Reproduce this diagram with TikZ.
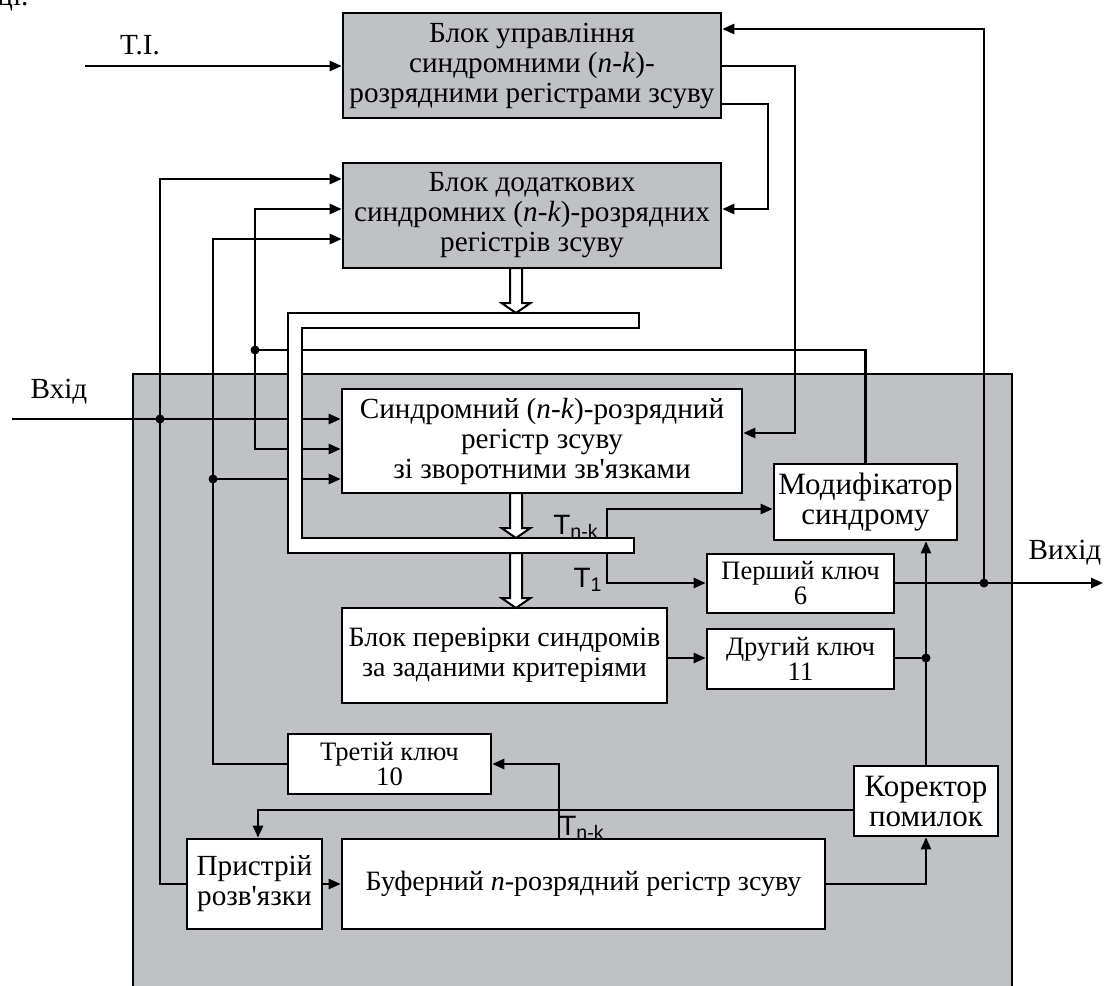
\documentclass[tikz,border=0pt]{standalone}
\usepackage{fontspec}
\setmainfont{Liberation Serif}
\newfontfamily\diagfont{Liberation Serif}
\newfontfamily\sansfont{Liberation Sans}
\usetikzlibrary{arrows.meta,calc}
\definecolor{panelgray}{RGB}{192,193,197}
\newcommand{\nk}{(\textit{n}-\textit{k})}
\tikzset{
  >={Triangle[length=6pt,width=5pt]},
  blk/.style={rectangle, draw, line width=1.3pt, fill=white, align=center, inner sep=0pt, font=\diagfont\fontsize{14.6pt}{15pt}\selectfont},
  grayblk/.style={blk, fill=panelgray},
  keyblk/.style={blk, font=\diagfont\fontsize{13.3pt}{12.5pt}\selectfont},
  midblk/.style={blk, font=\diagfont\fontsize{14pt}{15pt}\selectfont},
  bigblk/.style={blk, font=\diagfont\fontsize{15.5pt}{15pt}\selectfont},
  lbl/.style={font=\diagfont\fontsize{14.6pt}{15pt}\selectfont, inner sep=0pt},
  tlbl/.style={font=\sansfont\fontsize{14pt}{15pt}\selectfont, inner sep=0pt},
  conn/.style={line width=1.2pt},
  dot/.style={circle, fill, inner sep=0pt, minimum size=4.5pt},
}
\begin{document}
\begin{tikzpicture}[x=0.5pt,y=-0.5pt]
		\useasboundingbox (0,0) rectangle (1104,986);
		\node[lbl, anchor=base west] (cut) at (-3,5) {ці.};
		
		% gray panel of the decoder
		\draw[line width=1.3pt, fill=panelgray] (133,374) rectangle (1012,1010);
		
		\node (ctrl) [grayblk, minimum width=189pt, minimum height=52.5pt] at (532,65.5) {Блок управління\\синдромними \nk-\\розрядними регістрами зсуву};
		\node (addreg) [grayblk, minimum width=189pt, minimum height=52.5pt] at (532,215.5) {Блок додаткових\\синдромних \nk-розрядних\\регістрів зсуву};
		\node (syndreg) [blk, minimum width=200pt, minimum height=52pt] at (542,441) {Синдромний \nk-розрядний\\регістр зсуву\\зі зворотними зв'язками};
		\node (modif) [bigblk, minimum width=91.5pt, minimum height=38pt] at (865.5,502) {Модифікатор\\синдрому};
		\node (key1) [keyblk, minimum width=93.5pt, minimum height=29.5pt] at (800.5,583.5) {Перший ключ\\6};
		\node (key2) [keyblk, minimum width=93.5pt, minimum height=30pt] at (800.5,659) {Другий ключ\\11};
		\node (check) [midblk, minimum width=162.5pt, minimum height=47.5pt] at (504.5,655.5) {Блок перевірки синдромів\\за заданими критеріями};
		\node (key3) [keyblk, minimum width=101.5pt, minimum height=30pt] at (389.5,764) {Третій ключ\\10};
		\node (corr) [bigblk, minimum width=72pt, minimum height=35pt] at (926,801) {Коректор\\помилок};
		\node (decide) [blk, minimum width=67.5pt, minimum height=45pt] at (254.5,884) {Пристрій\\розв'язки};
		\node (buffer) [midblk, minimum width=241.5pt, minimum height=45pt] at (583.5,884) {Буферний \textit{n}-розрядний регістр зсуву};
		
		\node (tilbl) [lbl] at (140,45) {T.I.};
		\node (inlbl) [lbl] at (59,392) {Вхід};
		\node (outlbl) [lbl] at (1065,553) {Вихід};
		
		% bend points
		\coordinate (tiin) at (85,66);
		\coordinate (inp) at (12,419);
		\coordinate (r1) at (768,104);
		\coordinate (r1b) at (768,209);
		\coordinate (r2) at (795,66);
		\coordinate (r2b) at (795,433);
		\coordinate (fb) at (984,29);
		\coordinate (outdot) at (984,583);
		\coordinate (outend) at (1103,583);
		\coordinate (l1) at (160,179);
		\coordinate (d1) at (160,419);
		\coordinate (l2) at (213,239);
		\coordinate (d2) at (213,479);
		\coordinate (l3) at (255,209);
		\coordinate (l3b) at (255,449);
		\coordinate (d3) at (255,350);
		\coordinate (d5) at (926,658);
		\coordinate (c7) at (258,810);
		\coordinate (c8) at (559,764);
		\coordinate (bustop) at (607,538);
		\coordinate (busbot) at (607,553);
		\coordinate (tnk) at (607,509);
		\coordinate (tone) at (607,583);
		
		\draw [conn, ->] (tiin) -- (tiin -| ctrl.west);
		\draw [conn, ->] (r1 -| ctrl.east) -- (r1) -- (r1b) -- (r1b -| addreg.east);
		\draw [conn, ->] (r2 -| ctrl.east) -- (r2) -- (r2b) -- (r2b -| syndreg.east);
		\draw [conn, ->] (outdot) -- (fb) -- (fb -| ctrl.east);
		\draw [conn, ->] (outdot -| key1.east) -- (outend);
		\draw [conn, ->] (inp) -- (inp -| syndreg.west);
		\draw [conn, ->] (decide.west) -| (l1) -- (l1 -| addreg.west);
		\draw [conn, ->] (key3.west) -| (l2) -- (l2 -| addreg.west);
		\draw [conn, ->] (d2) -- (d2 -| syndreg.west);
		\draw [conn] (modif.north) |- (d3);
		\draw [conn, ->] (d3) -- (l3) -- (l3 -| addreg.west);
		\draw [conn, ->] (d3) -- (l3b) -- (l3b -| syndreg.west);
		\draw [conn, ->] (d5 -| check.east) -- (d5 -| key2.west);
		\draw [conn] (d5 -| key2.east) -- (d5);
		\draw [conn, ->] (corr.north) -- (corr.north |- modif.south);
		\draw [conn, ->] (buffer.east) -| (corr.south);
		\draw [conn, ->] (c7 -| corr.west) -- (c7) -- (c7 |- decide.north);
		\draw [conn, ->] (c8 |- buffer.north) -- (c8) -- (c8 -| key3.east);
		\draw [conn, ->] (decide.east) -- (buffer.west);
		\draw [conn, ->] (bustop) -- (tnk) -- (tnk -| modif.west);
		\draw [conn, ->] (busbot) -- (tone) -- (tone -| key1.west);
		
		% bus of the syndrome registers
		\draw [line width=1.3pt, fill=white] (288,313) -- (639,313) -- (639,328) -- (302,328) -- (302,538) -- (634,538) -- (634,553) -- (288,553) -- cycle;
		\foreach \ya/\yb in {268/313, 493/538, 553/608}
			\draw [line width=1pt, fill=white] (510,\ya) -- (510,\yb-10) -- (501.5,\yb-10) -- (516,\yb) -- (530.5,\yb-10) -- (522,\yb-10) -- (522,\ya) -- cycle;
		
		\node (tnk1) [tlbl] at (576,527) {T\textsubscript{n-k}};
		\node (t1lbl) [tlbl] at (588,580) {T\textsubscript{1}};
		\node (tnk2) [tlbl] at (582,828) {T\textsubscript{n-k}};
		
		\foreach \p in {d1, d2, d3, outdot, d5}
			\node [dot] at (\p) {};
		
		\end{tikzpicture}
\end{document}
